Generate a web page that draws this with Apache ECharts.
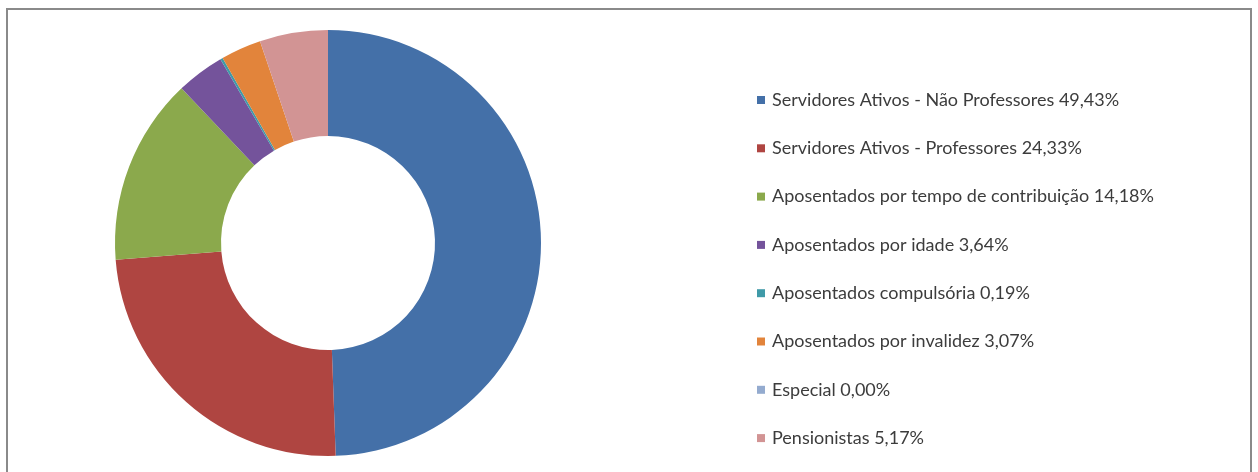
<!DOCTYPE html>
<html>
<head>
<meta charset="utf-8">
<script src="https://cdn.jsdelivr.net/npm/echarts@6/dist/echarts.min.js"></script>
<style>
html,body{margin:0;padding:0;background:#fff;}
#chart{width:1258px;height:472px;}
</style>
</head>
<body>
<div id="chart"></div>
<script>
const categories = [
  'Servidores Ativos - Não Professores',
  'Servidores Ativos - Professores',
  'Aposentados por tempo de contribuição',
  'Aposentados por idade',
  'Aposentados compulsória',
  'Aposentados por invalidez',
  'Especial',
  'Pensionistas'
];
const values = [49.43, 24.33, 14.18, 3.64, 0.19, 3.07, 0.00, 5.17];
const colors = ['#4470A8', '#AF4541', '#8BA94C', '#74539B', '#3F9AA8', '#E2843B', '#94ABCF', '#D29494'];

const chart = echarts.init(document.getElementById('chart'));
const fmt = v => v.toFixed(2).replace('.', ',') + '%';
chart.setOption({
  animation: false,
  color: colors,
  graphic: [{
    type: 'rect',
    shape: {x: 7, y: 9, width: 1244, height: 480},
    style: {fill: 'none', stroke: '#8a8a8a', lineWidth: 2},
    silent: true,
    z: -1
  }],
  legend: {
    orient: 'vertical',
    left: 752,
    top: 86,
    icon: 'rect',
    itemWidth: 8,
    itemHeight: 8,
    itemGap: 30.3,
    textStyle: {fontFamily: 'Lato', fontSize: 18, color: '#3c3c3c', lineHeight: 18, padding: [0, 0, 0, 2]},
    formatter: name => name + ' ' + fmt(values[categories.indexOf(name)]),
    data: categories
  },
  series: [{
    type: 'pie',
    center: [328, 243],
    radius: [107, 213],
    startAngle: 90,
    clockwise: true,
    label: {show: false},
    labelLine: {show: false},
    emphasis: {disabled: true},
    minAngle: 0,
    data: categories.map((c, i) => ({name: c, value: values[i]}))
  }]
});
</script>
</body>
</html>
